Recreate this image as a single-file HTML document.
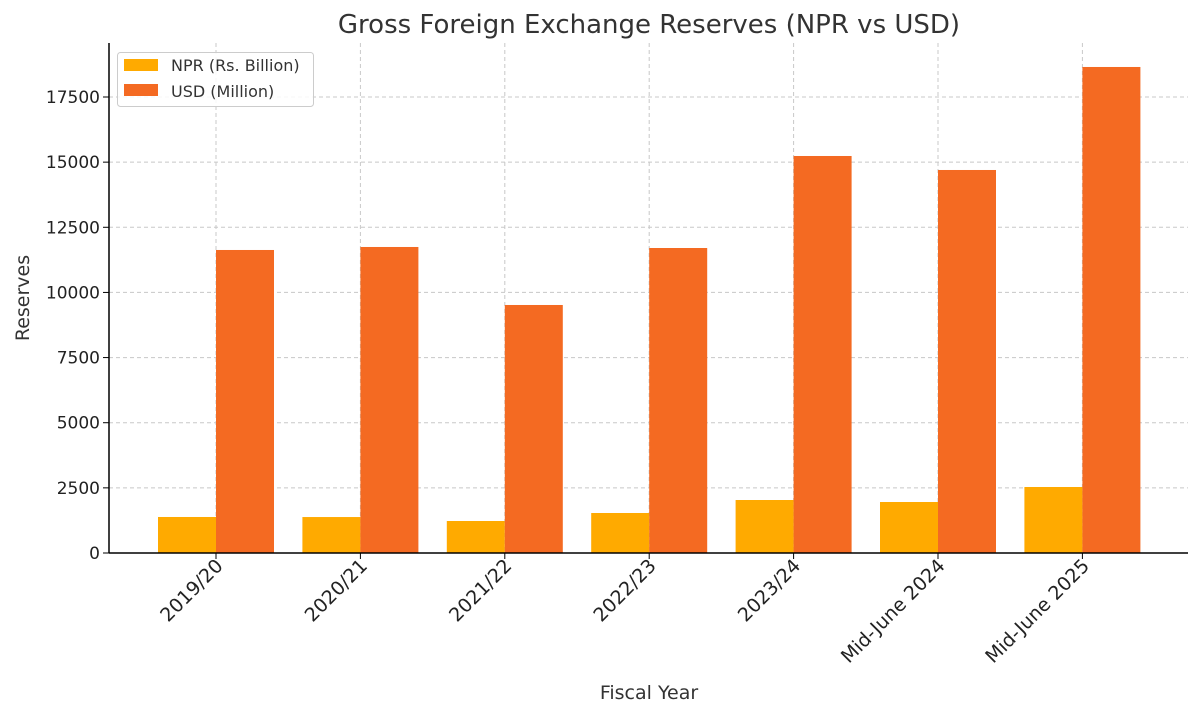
<!DOCTYPE html>
<html><head><meta charset="utf-8"><style>
body{margin:0;background:#fff;}
svg{display:block;font-family:"DejaVu Sans","Liberation Sans",sans-serif;}
</style></head><body>
<svg id="chart" width="1200" height="716" viewBox="0 0 1200 716">
<text x="649" y="33" text-anchor="middle" font-size="26" fill="#333">Gross Foreign Exchange Reserves (NPR vs USD)</text>
<g id="grid"></g><g id="bars"></g><g id="axes"></g>
<text x="649" y="699" text-anchor="middle" font-size="19" fill="#333">Fiscal Year</text>
<text transform="translate(29,298) rotate(-90)" text-anchor="middle" font-size="19" fill="#333">Reserves</text>
<g>
<rect x="117.5" y="52.5" width="196" height="54" rx="3" fill="#fff" fill-opacity="0.85" stroke="#ccc"/>
<rect x="124" y="59" width="34" height="12" fill="#FFAA00"/>
<text x="171" y="71" font-size="16" fill="#333">NPR (Rs. Billion)</text>
<rect x="124" y="84" width="34" height="12" fill="#F46A22"/>
<text x="171" y="97" font-size="16" fill="#333">USD (Million)</text>
</g>
</svg>
<script>
const categories=["2019/20","2020/21","2021/22","2022/23","2023/24","Mid-June 2024","Mid-June 2025"];
const nprValues=[1382,1380,1228,1535,2034,1957,2533];
const usdValues=[11629,11744,9518,11705,15236,14699,18652];
const yTicks=[0,2500,5000,7500,10000,12500,15000,17500];
const NS="http://www.w3.org/2000/svg";
const x0=109,x1=1188,y0=553,yTop=43;
const pxPer=(553-97)/17500;
const y=v=>y0-v*pxPer;
const step=144.4,first=216,bw=58;
const xc=i=>first+i*step;
function mk(tag,attrs,parent){const e=document.createElementNS(NS,tag);for(const k in attrs)e.setAttribute(k,attrs[k]);parent.appendChild(e);return e;}
const grid=document.getElementById('grid'),bars=document.getElementById('bars'),axes=document.getElementById('axes');
yTicks.forEach(t=>{
 const l=mk('line',{x1:x0,x2:x1,y1:y(t),y2:y(t),stroke:'#c8c8c8','stroke-dasharray':'4,3'},grid);
 
 
 const tk=mk('line',{x1:x0-6,x2:x0,y1:y(t),y2:y(t),stroke:'#000'},axes);
 
 
 const tx=mk('text',{x:x0-9,y:y(t)+6,'text-anchor':'end','font-size':'17',fill:'#222'},axes);
 tx.textContent=t;
 
 
});
categories.forEach((c,i)=>{
 const g=mk('line',{x1:xc(i),x2:xc(i),y1:yTop,y2:y0,stroke:'#c8c8c8','stroke-dasharray':'4,3'},grid);
 
 
 const a=mk('rect',{x:xc(i)-bw,y:y(nprValues[i]),width:bw,height:y0-y(nprValues[i]),fill:'#FFAA00'},bars);
 
 
 const b=mk('rect',{x:xc(i),y:y(usdValues[i]),width:bw,height:y0-y(usdValues[i]),fill:'#F46A22'},bars);
 
 
 const tk=mk('line',{x1:xc(i),x2:xc(i),y1:y0,y2:y0+6,stroke:'#000'},axes);
 
 
 const tx=mk('text',{transform:`translate(${xc(i)+8},${y0+14}) rotate(-45)`,'text-anchor':'end','font-size':'19',fill:'#222'},axes);
 tx.textContent=c;
 
 
});
const ya=mk('line',{x1:x0,x2:x0,y1:yTop,y2:y0,stroke:'#000','stroke-width':1.5},axes);


const xa=mk('line',{x1:x0,x2:x1,y1:y0,y2:y0,stroke:'#000','stroke-width':1.5},axes);


</script>
</body></html>
